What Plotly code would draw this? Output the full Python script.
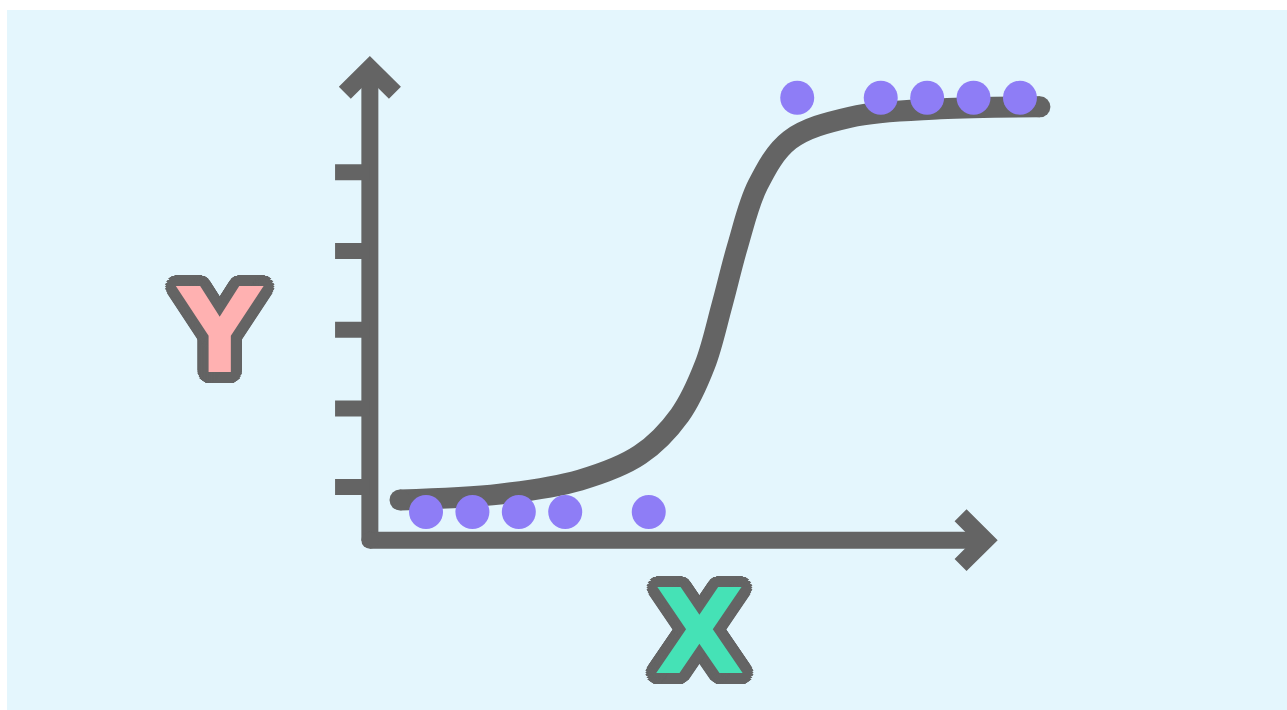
import math
import plotly.graph_objects as go

# Observations: feature value and binary outcome (0 or 1)
obs_x = [-6.4, -5.4, -4.4, -3.4, -1.6, 1.6, 3.4, 4.4, 5.4, 6.4]
obs_y = [0, 0, 0, 0, 0, 1, 1, 1, 1, 1]

# Fitted S-shaped probability curve
curve_x = [-6.96, -4.81, -3.08, -1.79, -0.93, -0.39, -0.02, 0.32, 0.75, 1.44,
           2.74, 4.68, 6.83]
curve_y = [0.029, 0.043, 0.077, 0.138, 0.234, 0.355, 0.500, 0.644, 0.789, 0.898,
           0.953, 0.973, 0.978]

# Decorative y-axis tick positions
tick_y = [0.06, 0.25, 0.44, 0.63, 0.82]

# Axis geometry (data units)
AX_X0 = -7.61    # x position of vertical axis
AX_Y0 = -0.068   # y position of horizontal axis
AX_YTOP = 1.072  # top of vertical arrow
AX_XEND = 5.66   # end of horizontal arrow
TICK_LEN = 0.75
HEAD_DX = 0.54
HEAD_DY = 0.060

GRAY = "#646464"
BG = "#E4F6FD"
DOT = "#8E7DF6"

fig = go.Figure()

shapes = []
line_style = dict(color=GRAY, width=17)
# Axes
shapes.append(dict(type="line", xref="x", yref="y", x0=AX_X0, y0=AX_Y0, x1=AX_X0, y1=AX_YTOP,
                   line=line_style, layer="below"))
shapes.append(dict(type="line", xref="x", yref="y", x0=AX_X0, y0=AX_Y0, x1=AX_XEND, y1=AX_Y0,
                   line=line_style, layer="below"))
# Arrow heads
shapes.append(dict(type="path", xref="x", yref="y",
                   path=f"M {AX_X0-HEAD_DX},{AX_YTOP-HEAD_DY} L {AX_X0},{AX_YTOP} L {AX_X0+HEAD_DX},{AX_YTOP-HEAD_DY}",
                   line=line_style, layer="below"))
shapes.append(dict(type="path", xref="x", yref="y",
                   path=f"M {AX_XEND-HEAD_DX},{AX_Y0+HEAD_DY} L {AX_XEND},{AX_Y0} L {AX_XEND-HEAD_DX},{AX_Y0-HEAD_DY}",
                   line=line_style, layer="below"))
# Ticks
for ty in tick_y:
    shapes.append(dict(type="line", xref="x", yref="y", x0=AX_X0 - TICK_LEN, y0=ty, x1=AX_X0, y1=ty,
                       line=dict(color=GRAY, width=16), layer="below"))

# Rounded corner where the axes meet
fig.add_trace(go.Scatter(x=[AX_X0], y=[AX_Y0], mode="markers",
                         marker=dict(size=17, color=GRAY), hoverinfo="skip", showlegend=False))

# Curve
fig.add_trace(go.Scatter(x=curve_x, y=curve_y, mode="lines",
                         line=dict(color=GRAY, width=21, shape="spline", smoothing=1.0),
                         hoverinfo="skip", showlegend=False))
# Round caps on the curve ends
fig.add_trace(go.Scatter(x=[curve_x[0], curve_x[-1]], y=[curve_y[0], curve_y[-1]], mode="markers",
                         marker=dict(size=21, color=GRAY), hoverinfo="skip", showlegend=False))

# Observations
fig.add_trace(go.Scatter(x=obs_x, y=obs_y, mode="markers",
                         marker=dict(size=34, color=DOT, line=dict(width=0)),
                         showlegend=False))


def outline(color, r):
    """Thick rounded text outline built from stacked text shadows."""
    offs = []
    for rad in (r, r * 0.7, r * 0.4):
        for k in range(40):
            a = 2 * math.pi * k / 40
            offs.append(f"{rad*math.cos(a):.1f}px {rad*math.sin(a):.1f}px 0 {color}")
    return ", ".join(offs)


letter_font = dict(family="'DejaVu Sans', sans-serif", size=118, weight=700)
fig.add_annotation(x=-10.86, y=0.437, xref="x", yref="y", text="Y", showarrow=False,
                   font=dict(**letter_font, color="#FFB1B1", shadow=outline(GRAY, 11)),
                   xanchor="center", yanchor="middle")
fig.add_annotation(x=-0.50, y=-0.290, xref="x", yref="y", text="X", showarrow=False,
                   font=dict(**letter_font, color="#45E2B6", shadow=outline(GRAY, 11)),
                   xanchor="center", yanchor="middle")

fig.update_layout(
    width=1287, height=710,
    margin=dict(l=7, r=0, t=10, b=0),
    paper_bgcolor="white",
    plot_bgcolor=BG,
    shapes=shapes,
    xaxis=dict(range=[-15.43, 12.155], visible=False, fixedrange=True),
    yaxis=dict(range=[-0.478, 1.2117], visible=False, fixedrange=True),
    showlegend=False,
)

fig.write_html("out.html", config={"displayModeBar": False})
